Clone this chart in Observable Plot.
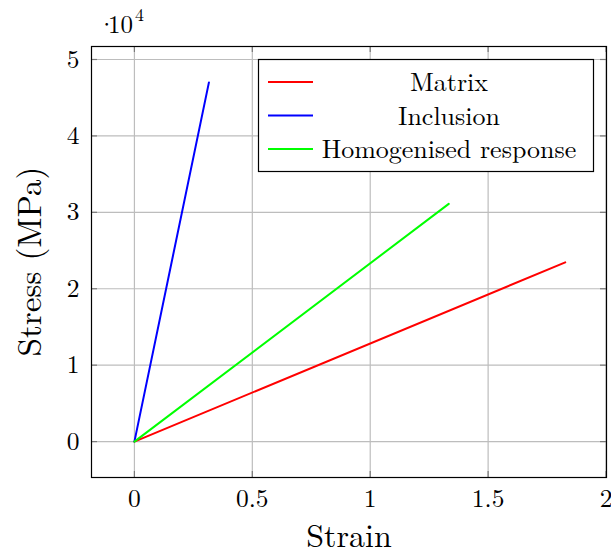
<!DOCTYPE html>
<html>
<head>
<meta charset="utf-8">
<script src="https://cdn.jsdelivr.net/npm/d3@7"></script>
<script src="https://cdn.jsdelivr.net/npm/@observablehq/plot@0.6"></script>
<style>
  html, body { margin: 0; padding: 0; background: #fff; }
  svg { display: block; }
</style>
</head>
<body>
<div id="chart"></div>
<script>
// ---- Data ----
const seriesNames = ["Matrix", "Inclusion", "Homogenised response"];
const seriesColors = ["#ff0000", "#0000ff", "#00ff00"];
const matrixStrain = [0, 1.827];
const matrixStress = [0, 23450];
const inclusionStrain = [0, 0.316];
const inclusionStress = [0, 47000];
const homogStrain = [0, 1.333];
const homogStress = [0, 31100];
const xTicks = [0, 0.5, 1, 1.5, 2];
const yTicks = [0, 10000, 20000, 30000, 40000, 50000];
const xLabel = "Strain";
const yLabel = "Stress (MPa)";

const rows = [];
[[matrixStrain, matrixStress], [inclusionStrain, inclusionStress], [homogStrain, homogStress]]
  .forEach(([xs, ys], i) => xs.forEach((x, j) => rows.push({series: seriesNames[i], x, y: ys[j]})));

const W = 611, H = 555;
const mL = 91, mR = 5, mT = 46, mB = 78;
const xMax = 1.82, yMax = 47000;
const font = "'Latin Modern Roman','CMU Serif','Liberation Serif','Times New Roman',serif";
const innerH = H - mT - mB, innerW = W - mL - mR;

const chart = Plot.plot({
  width: W, height: H,
  marginLeft: mL, marginRight: mR, marginTop: mT, marginBottom: mB,
  style: {fontFamily: font, background: "#fff", color: "#000"},
  x: {domain: [-0.1 * xMax, 1.1 * xMax]},
  y: {domain: [-0.1 * yMax, 1.1 * yMax]},
  color: {domain: seriesNames, range: seriesColors},
  marks: [
    Plot.gridX(xTicks, {stroke: "#bdbdbd", strokeOpacity: 1, strokeWidth: 1.2}),
    Plot.gridY(yTicks, {stroke: "#bdbdbd", strokeOpacity: 1, strokeWidth: 1.2}),
    // small inward tick marks
    Plot.tickX(xTicks, {x: d => d, stroke: "#7a7a7a", strokeWidth: 1.2, insetTop: innerH - 6}),
    Plot.tickX(xTicks, {x: d => d, stroke: "#7a7a7a", strokeWidth: 1.2, insetBottom: innerH - 6}),
    Plot.tickY(yTicks, {y: d => d, stroke: "#7a7a7a", strokeWidth: 1.2, insetRight: innerW - 6}),
    Plot.tickY(yTicks, {y: d => d, stroke: "#7a7a7a", strokeWidth: 1.2, insetLeft: innerW - 6}),
    Plot.line(rows, {x: "x", y: "y", z: "series", stroke: "series", strokeWidth: 2}),
    Plot.frame({stroke: "#000", strokeWidth: 1.2}),
    Plot.axisX(xTicks, {tickSize: 0, tickPadding: 11, fontSize: 25.5, label: null, tickFormat: d => String(d)}),
    Plot.axisY(yTicks, {tickSize: 0, tickPadding: 12, fontSize: 25.5, label: null, tickFormat: d => String(d / 10000)})
  ]
});

document.getElementById("chart").appendChild(chart);

const svg = d3.select(chart);
// axis titles
svg.append("text").attr("x", 349).attr("y", 547)
  .attr("text-anchor", "middle").attr("font-size", 32).attr("font-family", font).attr("fill", "#000")
  .text(xLabel);
svg.append("text").attr("transform", `translate(41, 261.5) rotate(-90)`)
  .attr("text-anchor", "middle").attr("font-size", 33).attr("font-family", font).attr("fill", "#000")
  .text(yLabel);
// scale factor label
const sf = svg.append("text").attr("y", 33).attr("font-size", 25)
  .attr("text-anchor", "start").attr("font-family", font).attr("fill", "#000");
sf.append("tspan").attr("x", 97).text("·");
sf.append("tspan").attr("x", 108).text("10");
sf.append("tspan").attr("font-size", 18).attr("dy", -12).attr("dx", 2).text("4");

// legend
const lg = svg.append("g");
lg.append("rect").attr("x", 258.5).attr("y", 59.5).attr("width", 335).attr("height", 112)
  .attr("fill", "#fff").attr("stroke", "#000").attr("stroke-width", 1.2);
seriesNames.forEach((name, i) => {
  const yy = 82 + i * 33.5;
  lg.append("line").attr("x1", 268).attr("x2", 313).attr("y1", yy).attr("y2", yy)
    .attr("stroke", seriesColors[i]).attr("stroke-width", 2);
  lg.append("text").attr("x", 449).attr("y", yy + 9).attr("text-anchor", "middle")
    .attr("font-size", 26).attr("font-family", font).attr("fill", "#000").text(name);
});
</script>
</body>
</html>
